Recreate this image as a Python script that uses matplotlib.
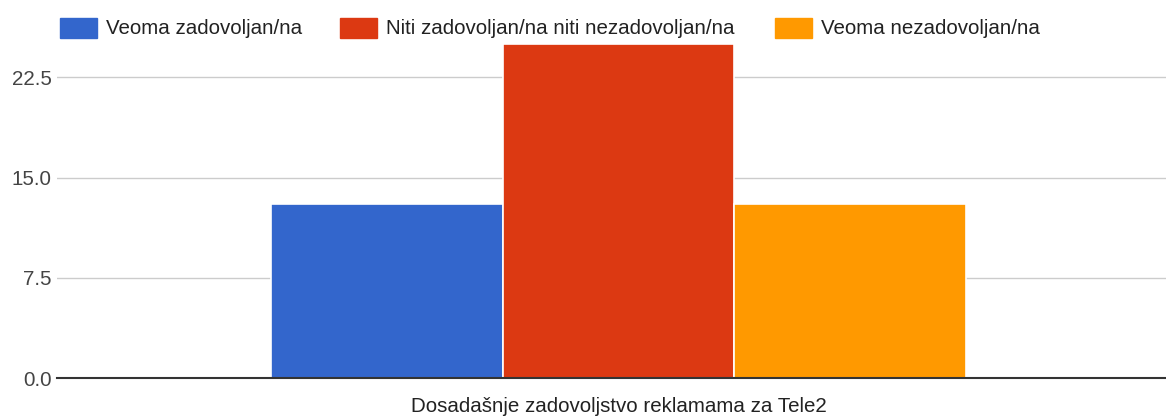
import matplotlib
matplotlib.use("Agg")
import matplotlib.pyplot as plt
import matplotlib.patches as mpatches

plt.rcParams['font.family'] = ['Liberation Sans', 'DejaVu Sans']

# data
category = "Dosadašnje zadovoljstvo reklamama za Tele2"
series = ["Veoma zadovoljan/na", "Niti zadovoljan/na niti nezadovoljan/na", "Veoma nezadovoljan/na"]
values = [13, 25, 13]
colors = ["#3366cc", "#dc3912", "#ff9900"]
yticks = [0.0, 7.5, 15.0, 22.5]

W, H = 1166, 417
fig = plt.figure(figsize=(W / 100, H / 100), dpi=100)
ax = fig.add_axes([57 / W, (H - 378) / H, (W - 57) / W, (378 - 40) / H])

xs = [-1, 0, 1]
ax.bar(xs, values, width=1.0, color=colors, edgecolor="white", linewidth=1.2, zorder=3)

ax.set_xlim(-2.4255, 2.365)
ax.set_ylim(0, 25.3)
ax.set_yticks(yticks)
ax.set_yticklabels([f"{v:.1f}" for v in yticks], fontsize=14.8, color="#444444")
ax.tick_params(axis="y", length=0, pad=4)
ax.set_xticks([0])
ax.set_xticklabels([category], fontsize=14.8, color="#222222")
ax.tick_params(axis="x", length=0, pad=14)
ax.grid(axis="y", color="#cccccc", linewidth=1, zorder=0)
for s in ["top", "right", "left"]:
    ax.spines[s].set_visible(False)
ax.spines["bottom"].set_color("#333333")
ax.spines["bottom"].set_linewidth(1.5)
ax.spines["bottom"].set_zorder(4)

# legend drawn across the top
leg_x = [60, 340, 775]
for x0, lab, c in zip(leg_x, series, colors):
    fig.patches.append(mpatches.Rectangle((x0 / W, (H - 38) / H), 37 / W, 20 / H,
                                          transform=fig.transFigure, color=c))
    fig.text((x0 + 46) / W, (H - 28) / H, lab, fontsize=14.8, color="#222222",
             va="center", ha="left")

fig.savefig("out.png", dpi=100)
